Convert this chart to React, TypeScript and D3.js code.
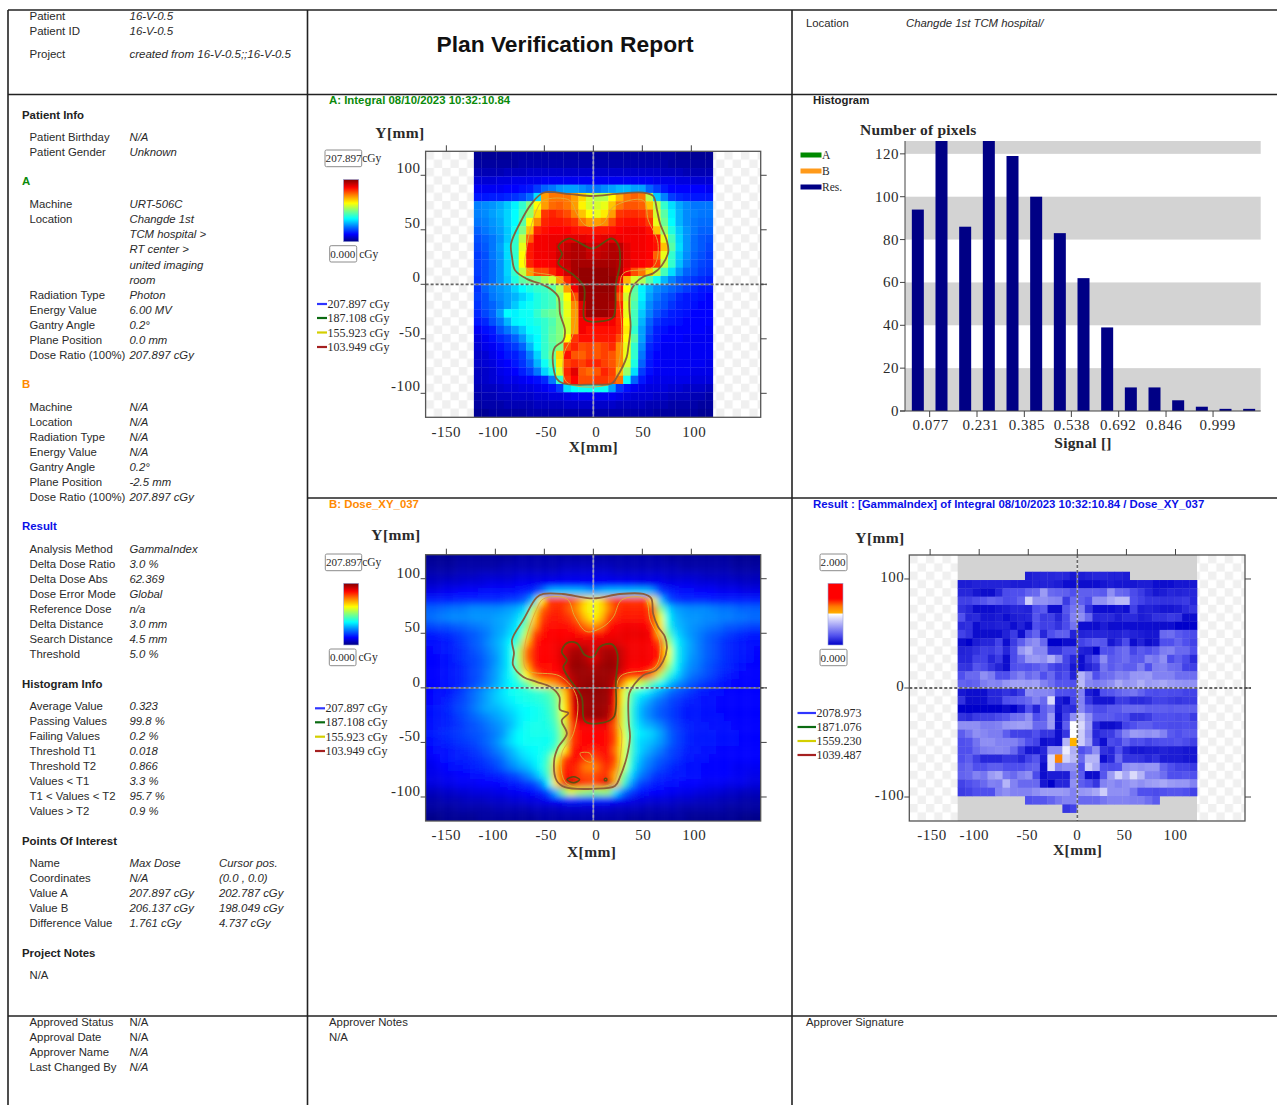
import React from "react";
import * as d3 from "d3";

// ---------- DATA ----------
const _ = null;
// Panel A: integral dose, percent of maximum, 32 x 32 pixels
const doseA: number[][] = [
[2,2,2,2,2,3,3,3,3,3,3,3,3,3,3,3,3,3,3,3,3,3,3,3,3,3,3,2,2,2,2,2],
[3,3,3,3,3,3,4,4,4,4,4,4,4,4,4,4,4,4,4,4,4,4,4,4,4,4,3,3,3,3,3,3],
[5,5,5,5,6,6,6,7,7,7,7,7,7,7,7,7,7,7,7,7,7,7,7,7,7,6,6,6,5,5,5,5],
[8,8,8,9,9,10,10,10,10,11,11,11,11,11,11,11,11,11,11,11,11,11,11,11,10,10,10,9,9,8,8,8],
[11,11,11,11,12,12,13,14,18,22,24,27,28,28,26,24,24,26,28,30,30,28,28,22,18,14,12,12,12,12,12,11],
[14,14,15,15,16,17,19,23,34,72,76,76,76,72,66,58,55,55,62,70,76,78,76,55,32,25,18,16,15,14,14,14],
[25,26,27,29,32,36,42,50,62,72,77,78,76,72,63,58,58,60,68,76,79,79,78,68,56,42,34,29,26,24,24,24],
[25,26,28,30,33,37,44,52,66,82,84,82,80,75,68,62,60,64,72,82,83,83,82,78,58,46,36,30,26,25,24,24],
[24,25,27,29,33,37,46,62,74,84,85,85,84,82,76,72,72,74,80,85,86,86,85,82,60,48,37,30,26,24,23,23],
[22,24,26,28,32,38,50,68,84,86,87,87,87,86,85,85,85,85,86,87,88,88,88,86,68,52,40,32,27,24,22,22],
[20,22,24,27,32,42,56,78,88,88,89,89,90,90,90,89,89,90,90,89,88,88,88,87,85,60,44,33,27,23,21,20],
[19,21,24,28,34,42,60,85,88,88,89,91,93,95,95,92,92,93,95,94,90,88,88,87,86,68,46,34,27,23,21,19],
[18,20,24,27,34,42,62,85,88,88,89,92,94,95,95,93,93,94,95,95,90,88,88,87,78,60,42,32,26,22,20,18],
[18,20,23,27,33,42,62,84,87,87,88,91,93,96,96,96,96,96,96,95,90,88,87,86,82,56,42,31,25,21,19,18],
[18,20,23,27,33,42,56,72,80,80,84,88,92,96,98,98,98,98,97,95,88,80,76,66,56,44,34,27,22,20,18,17],
[17,20,23,27,32,40,46,48,50,54,58,72,84,92,98,98,98,98,98,90,70,58,54,46,38,30,25,21,19,17,16,15],
[17,22,25,27,29,33,37,40,42,43,46,55,72,88,98,98,98,98,98,85,62,46,36,30,26,24,22,20,18,16,14,14],
[18,20,24,26,28,30,33,36,40,42,44,52,62,80,97,97,97,97,97,80,58,47,36,28,24,21,19,16,14,14,13,12],
[17,20,22,25,28,32,36,38,40,42,44,50,60,74,90,97,97,97,96,84,60,45,34,26,22,20,17,15,14,13,12,12],
[16,19,22,28,37,36,38,38,42,46,48,50,60,72,90,97,97,97,95,84,60,44,32,25,20,17,15,14,13,12,12,12],
[14,16,20,24,30,36,37,38,40,42,45,50,58,72,88,88,88,88,88,84,62,44,30,22,17,15,14,13,12,12,12,12],
[11,13,15,20,24,28,32,37,38,42,46,50,58,72,88,86,86,86,86,84,64,42,28,20,15,13,12,12,12,12,12,11],
[9,11,13,16,18,22,27,34,37,42,47,50,62,82,86,86,85,85,85,80,62,46,28,18,14,12,12,12,11,11,11,11],
[8,10,11,13,16,18,22,30,37,42,46,50,80,84,80,81,79,81,83,74,60,42,26,16,13,11,11,11,11,11,11,11],
[7,8,10,12,14,15,18,25,33,42,48,66,86,79,78,81,79,81,79,74,60,42,24,15,12,11,11,11,11,11,11,11],
[7,8,9,11,12,14,17,22,30,38,45,64,81,83,81,84,84,81,79,74,58,40,22,14,12,11,11,11,11,11,11,10],
[6,7,8,10,11,12,15,18,24,33,40,58,84,90,79,77,79,84,81,68,52,34,18,13,11,11,11,11,11,10,10,10],
[6,7,8,9,10,10,11,12,13,16,24,42,82,87,80,80,82,82,80,76,38,22,14,11,10,10,10,10,10,9,9,9],
[5,6,6,7,8,8,9,9,10,11,13,18,34,37,38,38,38,38,28,17,13,11,10,9,9,9,8,8,7,7,7,6],
[4,5,5,6,6,7,7,7,8,8,9,9,10,11,11,11,11,11,11,10,9,8,8,8,7,7,6,6,6,5,5,4],
[3,4,4,4,5,5,5,5,6,6,6,6,7,7,7,7,7,7,7,6,6,6,6,5,5,5,4,4,4,4,3,3],
[2,2,3,3,3,3,3,4,4,4,4,4,4,4,4,4,4,4,4,4,4,4,4,4,3,3,3,3,3,3,2,2],
];
// Panel B: planned dose, percent of maximum, 45 columns by 32 rows (displayed smoothed)
const doseB: number[][] = [
[2,2,2,2,3,3,3,3,3,3,3,3,4,4,4,4,4,4,4,4,4,4,4,4,4,4,4,4,4,4,4,4,3,3,3,3,3,3,3,3,3,2,2,2,2],
[3,3,3,3,4,4,4,4,4,4,5,5,5,5,5,5,5,5,6,6,6,6,6,6,6,5,5,5,5,5,5,5,5,5,4,4,4,4,4,4,4,3,3,3,3],
[5,5,5,5,6,6,6,7,7,7,7,7,8,8,8,8,8,8,9,9,9,9,9,9,9,8,8,8,8,8,8,8,7,7,7,7,7,6,6,6,6,5,5,5,5],
[7,7,8,8,8,9,9,9,10,10,10,10,11,11,11,11,12,12,12,12,12,12,12,12,12,12,12,12,11,11,11,11,10,10,10,10,9,9,9,8,8,8,7,7,7],
[10,10,11,11,12,12,12,13,13,13,13,13,14,15,17,22,30,32,32,32,32,30,28,30,32,32,32,32,32,32,28,18,16,14,13,13,12,12,12,11,11,11,10,10,10],
[15,15,15,15,16,16,16,16,16,16,17,18,19,22,32,62,82,82,82,80,74,66,62,66,76,82,82,82,82,82,64,32,21,17,16,16,16,16,15,15,15,15,15,15,15],
[22,22,23,24,24,25,26,26,26,26,27,28,30,34,56,76,82,84,82,78,72,64,60,65,74,82,84,84,84,84,78,50,34,28,27,26,26,26,25,24,24,23,22,22,22],
[23,24,25,26,26,26,27,27,27,28,29,30,34,42,66,80,85,85,84,82,76,68,62,68,80,84,85,85,85,85,80,60,38,30,28,27,27,26,26,25,25,24,24,23,23],
[19,20,20,21,22,23,24,25,26,28,29,32,36,50,70,83,86,86,86,85,82,76,72,76,85,87,88,88,88,87,84,64,40,31,29,27,26,25,24,23,21,21,20,19,19],
[15,15,16,17,18,20,21,23,25,28,30,34,40,56,80,85,87,87,87,87,86,85,85,86,88,88,89,89,89,89,86,68,46,34,30,27,25,23,21,20,18,17,16,15,15],
[13,13,14,15,17,19,21,23,26,29,32,37,46,68,84,87,87,88,88,89,90,90,90,90,90,90,89,88,88,88,87,80,54,38,32,28,25,22,20,18,16,15,14,13,13],
[12,13,14,15,16,18,20,22,25,28,32,38,54,76,85,87,87,88,91,95,96,95,90,95,96,95,91,88,88,88,87,84,62,40,32,28,25,22,20,18,16,15,14,13,12],
[12,12,13,14,16,18,19,21,24,27,32,38,54,76,85,87,87,88,91,96,97,95,90,95,97,96,91,88,88,88,87,84,60,40,32,27,25,22,20,18,16,15,14,13,12],
[12,12,13,14,15,17,19,21,24,28,32,38,52,70,84,86,86,87,90,97,98,97,95,97,98,97,91,87,87,87,86,74,52,38,30,26,24,21,19,17,16,14,13,12,12],
[12,12,13,14,15,17,19,21,25,28,33,38,46,62,76,84,85,86,89,95,97,97,97,97,97,95,88,84,84,83,72,54,42,34,28,24,22,20,18,16,14,13,12,12,12],
[12,12,13,14,15,17,19,22,25,29,33,37,40,46,56,66,70,74,82,92,97,98,98,98,97,92,74,62,58,52,44,38,32,27,24,21,19,17,16,14,13,12,12,12,12],
[12,13,13,15,17,20,23,26,29,32,35,38,39,40,41,42,45,50,66,88,97,98,98,98,97,88,60,46,40,36,32,28,24,21,19,17,15,14,13,13,12,12,12,12,12],
[12,13,14,16,18,20,23,26,29,32,34,36,38,39,40,41,43,48,64,88,97,97,98,98,97,86,60,44,34,30,26,23,20,18,16,15,14,13,13,12,12,12,12,12,12],
[13,14,15,17,19,21,24,27,29,30,32,34,36,37,38,39,42,47,62,86,95,97,97,97,96,84,58,42,32,27,24,21,19,17,15,14,14,13,13,12,12,12,12,12,12],
[13,14,15,16,18,20,22,24,26,28,30,32,35,37,38,39,41,46,60,84,93,97,98,98,95,82,58,42,32,27,24,21,19,17,15,14,14,13,13,13,12,12,12,12,12],
[13,14,15,16,17,19,20,22,24,26,28,31,35,38,39,39,40,44,56,80,88,88,88,89,88,78,58,42,34,30,28,25,21,18,16,15,14,14,13,13,13,12,12,12,12],
[14,15,16,17,18,19,20,21,23,25,28,33,37,38,39,39,39,42,54,80,86,87,87,87,86,80,60,44,36,34,32,28,23,19,17,15,14,14,14,13,13,13,12,12,12],
[13,14,15,16,17,18,19,21,23,26,30,34,37,38,38,38,38,42,54,80,86,87,87,87,86,80,62,44,34,32,30,27,23,19,17,15,14,14,14,13,13,13,12,12,12],
[12,13,13,14,15,16,17,19,21,24,27,30,34,36,37,38,40,46,62,84,87,86,84,86,87,76,60,44,34,30,27,24,20,18,16,14,14,13,13,12,12,12,12,12,12],
[11,12,13,14,15,15,16,17,19,21,24,28,31,34,36,38,44,60,80,86,86,82,80,84,86,80,60,42,32,27,24,21,19,17,15,14,13,13,12,12,12,12,12,12,12],
[10,11,12,13,13,14,15,16,17,19,22,25,28,30,34,38,46,68,84,85,82,75,74,80,84,76,58,40,30,25,22,19,17,15,14,13,13,12,12,12,12,11,11,11,11],
[10,10,11,11,12,12,13,13,14,15,16,18,20,24,28,34,44,70,85,86,82,80,80,82,82,70,50,34,26,22,18,16,15,14,14,13,13,12,12,12,12,11,11,10,10],
[9,9,10,10,11,11,11,12,12,12,13,14,15,17,19,24,36,64,88,94,86,82,80,86,92,70,44,28,20,17,15,14,13,13,12,12,12,11,11,11,10,10,10,9,9],
[6,6,7,7,8,8,9,9,9,10,10,11,11,12,13,15,20,30,50,60,54,52,50,52,52,34,24,18,15,13,12,12,11,11,10,10,9,9,8,8,7,7,6,6,6],
[4,4,5,5,5,6,6,6,7,7,7,8,8,9,9,10,11,12,14,15,15,14,14,14,14,12,11,10,9,9,8,8,8,7,7,7,6,6,6,5,5,5,4,4,4],
[3,3,3,3,4,4,4,4,4,5,5,5,5,5,6,6,6,6,7,7,7,7,7,7,7,6,6,6,6,5,5,5,5,5,4,4,4,4,4,4,3,3,3,3,3],
[1,1,2,2,2,2,2,3,3,3,3,3,3,3,3,4,4,4,4,4,4,4,4,4,4,4,4,3,3,3,3,3,3,3,3,2,2,2,2,2,2,2,1,1,1],
];
// Result panel: gamma index x 100, 32 x 32 pixels (null = not evaluated)
const gamma: (number | null)[][] = [
[_,_,_,_,_,_,_,_,_,_,_,_,_,_,_,_,_,_,_,_,_,_,_,_,_,_,_,_,_,_,_,_],
[_,_,_,_,_,_,_,_,_,_,_,_,_,_,_,_,_,_,_,_,_,_,_,_,_,_,_,_,_,_,_,_],
[_,_,_,_,_,_,_,_,_,10,12,14,14,16,14,8,10,12,14,14,12,12,10,_,_,_,_,_,_,_,_,_],
[10,10,12,12,12,12,12,10,10,10,12,12,12,10,6,4,4,4,6,8,10,8,8,8,10,10,6,4,6,8,8,8],
[14,14,8,3,3,14,28,30,30,38,40,60,40,38,36,30,36,36,36,34,55,40,38,28,22,14,8,10,14,12,14,14],
[24,24,28,32,38,34,28,30,38,80,56,56,52,50,22,40,36,30,56,56,65,72,72,30,25,20,20,18,18,20,22,15],
[18,14,4,5,5,8,10,14,14,12,30,34,4,4,32,45,48,18,6,6,6,8,6,24,10,12,10,8,8,10,16,20],
[30,14,16,8,8,10,6,10,12,14,32,22,24,14,28,50,55,40,15,16,16,10,16,16,10,12,18,18,22,20,5,5],
[16,18,6,10,10,12,12,6,12,5,30,24,25,18,28,44,6,6,4,10,5,6,6,6,6,6,4,4,6,2,2,2],
[25,18,5,3,3,5,12,22,5,28,38,14,30,36,36,12,12,14,14,14,12,12,16,12,10,8,8,40,42,34,30,28],
[5,2,10,14,14,25,6,22,35,50,55,40,2,2,4,6,25,30,34,32,8,16,28,5,12,3,8,30,30,38,30,25],
[12,14,18,24,22,28,15,28,58,68,52,52,20,20,30,30,12,10,2,30,30,38,42,26,34,30,35,48,50,40,40,30],
[15,15,25,25,15,22,5,28,40,58,60,55,68,52,26,14,5,20,30,54,34,38,42,34,34,50,45,55,28,36,28,16],
[20,18,32,28,20,12,5,30,32,30,34,40,28,22,25,8,6,12,18,44,34,40,35,35,48,30,48,50,42,40,25,24],
[30,40,40,55,48,30,30,42,50,40,45,30,40,25,30,12,70,55,30,40,42,50,48,58,58,60,50,50,50,42,42,42],
[38,35,38,48,52,50,58,62,62,60,62,50,42,32,32,30,72,52,48,50,55,66,58,60,68,60,62,65,60,58,56,56],
[8,5,5,5,15,15,18,15,22,55,52,52,50,30,30,28,50,10,5,30,32,38,42,45,38,30,28,30,28,28,25,25],
[18,4,5,6,15,15,30,32,35,40,50,40,85,10,3,25,50,20,8,8,8,22,22,16,16,18,25,25,22,20,22,22],
[2,2,2,2,2,2,3,2,10,30,12,35,45,8,18,16,52,35,28,28,34,34,40,40,40,36,36,36,34,36,36,36],
[18,16,22,24,24,28,32,42,44,55,30,35,60,5,25,55,75,55,34,34,34,30,30,18,18,22,30,30,30,28,30,22],
[55,55,55,48,48,50,58,60,62,60,40,40,60,3,35,100,85,60,15,3,3,8,25,30,35,35,30,30,28,28,30,28],
[35,45,55,52,48,48,35,25,25,24,30,20,20,5,20,100,80,55,15,20,22,35,50,60,58,55,58,50,34,30,34,34],
[30,32,44,55,55,50,50,50,42,30,25,5,8,4,70,102,80,60,18,6,28,25,38,28,30,25,28,30,30,32,28,24],
[30,30,40,48,50,52,50,40,22,8,8,15,55,55,92,68,30,38,55,18,15,30,15,8,8,10,10,12,10,10,8,8],
[30,35,24,14,15,14,20,20,14,25,32,10,85,120,82,72,40,70,70,6,15,40,20,20,18,14,18,10,10,10,8,8],
[35,40,30,30,35,35,30,30,30,35,38,4,85,50,55,55,30,80,65,30,28,30,55,58,55,58,58,38,30,25,25,22],
[38,40,50,45,60,65,45,40,50,55,28,5,10,10,10,48,34,4,4,32,60,82,65,85,70,50,50,42,30,30,32,30],
[25,30,34,40,50,48,70,50,40,40,40,8,2,15,15,55,35,30,20,50,55,50,55,60,55,60,62,65,60,58,58,50],
[22,25,30,30,30,50,55,50,50,50,55,60,60,60,58,50,58,60,65,80,55,55,55,45,30,30,28,30,32,32,30,25],
[_,_,_,_,_,_,_,_,_,30,32,32,38,45,50,50,40,40,40,45,50,50,50,48,48,42,34,_,_,_,_,_],
[_,_,_,_,_,_,_,_,_,_,_,_,_,_,20,25,_,_,_,_,_,_,_,_,_,_,_,_,_,_,_,_],
[_,_,_,_,_,_,_,_,_,_,_,_,_,_,_,_,_,_,_,_,_,_,_,_,_,_,_,_,_,_,_,_],
];

// Isodose contours, [x mm, y mm]
const aOuter = [[-51,84],[-24,82.7],[0,81],[24,83],[51,84],[61,81],[65,68],[68,56],[75,40],[76.5,30],[70,17.5],[61,10],[51,7],[42.5,0.6],[37.4,-8.6],[36.7,-21],[38,-39],[35.7,-57.6],[34,-66.8],[24,-85],[18.7,-91],[0,-92],[-30.6,-91],[-37.4,-86.7],[-41.5,-66.8],[-39,-57.6],[-30.6,-51.5],[-29,-42],[-34,-27],[-35.7,-11.6],[-44,-4],[-54.4,0.6],[-68,5],[-80,13],[-83,25],[-84,37],[-75,56],[-63,74]];
const aInner = [[-25.5,42],[-17,39.5],[-0.7,32.8],[18.7,42],[25.5,36],[27,17.5],[23,0.6],[20.4,-30],[10,-33.7],[-8.5,-32.5],[-9.5,-2.5],[-20,8.3],[-35.7,19],[-32,28],[-35.7,35]];
const aMid = [[-51,77],[-24,77],[-17,65],[-7,53.6],[10,56],[20.4,71],[51,77],[56,59],[66,37.3],[61,16],[30.6,10],[27,-8.6],[29,-45],[24,-82],[18.7,-91],[-27,-90],[-30,-64],[-20.4,-45],[-20.4,-8.6],[-37.4,6.7],[-68,14],[-68,34],[-58,68]];
const bOuter = [[-51,86],[-31,86],[0,82],[27,86],[51,86],[59,82],[61,68],[66,56],[73,47],[75,36],[71,24],[64,16],[51,11.6],[42.5,4],[36.7,-5],[36,-30],[37.4,-45],[34,-63.7],[27,-82],[22,-90],[0,-92.5],[-29,-91],[-37.4,-85],[-40,-66.8],[-36,-54.5],[-27,-42],[-32.3,-30],[-25.5,-23],[-34,-20],[-34.7,-8],[-44,1],[-58,5.5],[-71.4,10],[-82,21],[-81,32],[-83,44],[-71.4,62.4],[-58,82.7]];
const bInner = [[-27,41],[-17,41],[-8.5,30],[0,28.5],[6.8,37.7],[18.7,40],[24.5,31.5],[23,7],[21,-26.6],[10,-31.9],[-8.5,-30.6],[-12,-8.3],[-27,11.6],[-30.6,19.3],[-27,25.3],[-32.3,33]];
const bHot1 = [[-27,-84],[-20,-81.5],[-14,-84],[-20,-87]];
const bHot2 = [[11.5,-83],[13.5,-83],[13.5,-85],[11.5,-85]];
const bMid = [[-51,81.5],[-27,81.5],[-18.7,65],[-6.8,51.5],[10,56],[20.4,65],[29,80.6],[52.7,81.5],[58,62],[68,41],[63,19],[27,10],[25.5,-30],[29,-42],[24,-79],[18.7,-88],[-27,-88],[-32.3,-60.6],[-20.4,-42],[-17,-8],[-34,10.7],[-68,16.5],[-70,38],[-58,71.8]];
const bMidLoop = [[-13.6,-60],[-3.4,-60],[-1.7,-68],[-8.5,-66.5]];

const xTicks = [-150, -100, -50, 0, 50, 100];
const yTicks = [100, 50, 0, -50, -100];
const gammaYTicks = [100, 0, -100];
const doseLegend = ["207.897 cGy", "187.108 cGy", "155.923 cGy", "103.949 cGy"];
const gammaLegend = ["2078.973", "1871.076", "1559.230", "1039.487"];

const histCenters = [0.0385,0.1155,0.1925,0.2695,0.3465,0.4235,0.5005,0.5775,0.6545,0.7315,0.8085,0.8855,0.9625,1.0395,1.1165];
const histCounts = [94,126,86,126,119,100,83,62,39,11,11,5,2,1,1];
const histYTicks = [0,20,40,60,80,100,120];
const histBands = [[0,20],[40,60],[80,100],[120,126]];
const histXTicks = [0.077,0.231,0.385,0.538,0.692,0.846,0.999];
const histXLabels = ["0.077","0.231","0.385","0.538","0.692","0.846","0.999"];
const histLegend = ["A","B","Res."];

const headerRows = [["Patient","16-V-0.5"],["Patient ID","16-V-0.5"],["Project","created from 16-V-0.5;;16-V-0.5"]];
const patientRows = [["Patient Birthday","N/A"],["Patient Gender","Unknown"]];
const aRows = [["Machine","URT-506C"],["Location","Changde 1st"],["","TCM hospital >"],["","RT center >"],["","united imaging"],["","room"],["Radiation Type","Photon"],["Energy Value","6.00 MV"],["Gantry Angle","0.2°"],["Plane Position","0.0 mm"],["Dose Ratio (100%)","207.897 cGy"]];
const bRows = [["Machine","N/A"],["Location","N/A"],["Radiation Type","N/A"],["Energy Value","N/A"],["Gantry Angle","0.2°"],["Plane Position","-2.5 mm"],["Dose Ratio (100%)","207.897 cGy"]];
const resultRows = [["Analysis Method","GammaIndex"],["Delta Dose Ratio","3.0 %"],["Delta Dose Abs","62.369"],["Dose Error Mode","Global"],["Reference Dose","n/a"],["Delta Distance","3.0 mm"],["Search Distance","4.5 mm"],["Threshold","5.0 %"]];
const histInfoRows = [["Average Value","0.323"],["Passing Values","99.8 %"],["Failing Values","0.2 %"],["Threshold T1","0.018"],["Threshold T2","0.866"],["Values < T1","3.3 %"],["T1 < Values < T2","95.7 %"],["Values > T2","0.9 %"]];
const poiRows = [["Name","Max Dose","Cursor pos."],["Coordinates","N/A","(0.0 , 0.0)"],["Value A","207.897 cGy","202.787 cGy"],["Value B","206.137 cGy","198.049 cGy"],["Difference Value","1.761 cGy","4.737 cGy"]];
const approvalRows = [["Approved Status","N/A"],["Approval Date","N/A"]];
const approverRows = [["Approver Name","N/A"],["Last Changed By","N/A"]];

// ---------- STYLE / LAYOUT ----------
const SANS = "'Liberation Sans', Arial, sans-serif";
const SERIF = "'Liberation Serif', 'Times New Roman', serif";
const TXT = "#2a2a2a";
const BODY = 11.35;

const jet = d3.scaleLinear<string>()
  .domain([0, 12, 25, 37, 50, 62, 75, 87, 100])
  .range(["#000080", "#0000ff", "#0080ff", "#00ffff", "#80ff80", "#ffff00", "#ff8000", "#ff0000", "#800000"])
  .clamp(true);
const gammaColor = d3.scaleLinear<string>()
  .domain([0, 30, 100, 101, 125, 150, 200])
  .range(["#0000c8", "#5050ee", "#ffffff", "#ffb400", "#ff7a00", "#ff0000", "#ff0000"])
  .clamp(true);

const CELL = 7.62;
const IMG_HALF = 121.9;
const curve = d3.line<number[]>().curve(d3.curveCatmullRomClosed.alpha(0.5));

type Contour = { pts: number[][]; color: string; w: number };

function Colorbar({ id, color, max, x0, x1, y0, y1 }: any) {
  const stops = d3.range(0, 1.0001, 0.02);
  return (
    <g>
      <defs>
        <linearGradient id={id} x1="0" y1="0" x2="0" y2="1">
          {stops.map((t) => <stop key={t} offset={t} stopColor={color(max * (1 - t))} />)}
        </linearGradient>
      </defs>
      <rect x={x0} y={y0} width={x1 - x0} height={y1 - y0} fill={`url(#${id})`} stroke="#9aa6d8" strokeWidth={0.6} />
    </g>
  );
}

function ValueBox({ x0, x1, y0, y1, text, suffix, suffixDx = 0 }: any) {
  return (
    <g>
      <rect x={x0} y={y0} width={x1 - x0} height={y1 - y0} rx={1.5} fill="#fff" stroke="#8c8c8c" strokeWidth={1} />
      <text x={x0 + 0.6} y={(y0 + y1) / 2 + 4} fontFamily={SERIF} fontSize={11.1} fill={TXT}>{text}</text>
      {suffix && <text x={x1 + suffixDx} y={(y0 + y1) / 2 + 4} fontFamily={SERIF} fontSize={11.5} fill={TXT}>{suffix}</text>}
    </g>
  );
}

const legendColors = ["#2f35ff", "#0b6b12", "#d4cf00", "#a52020"];

function Panel(p: any) {
  const x = d3.scaleLinear().domain([-171.2, 170.8]).range([p.left, p.right]);
  const y = d3.scaleLinear().domain([122, -122]).range([p.top, p.bottom]);
  const line = (pts: number[][]) => curve(pts.map((q) => [x(q[0]), y(q[1])]) as any) || "";
  const nCols = p.grid[0].length;
  const gridStart = -CELL * nCols / 2;
  const rowTop = (r: number) => IMG_HALF - CELL * r;
  const cx = (c: number) => x(gridStart + CELL * c);
  const clipId = `clip-${p.id}`;
  const imgX0 = p.full ? p.left : x(-IMG_HALF);
  const imgX1 = p.full ? p.right : x(IMG_HALF);
  return (
    <g>
      <defs>
        <clipPath id={clipId}><rect x={p.left} y={p.top} width={p.right - p.left} height={p.bottom - p.top} /></clipPath>
        <pattern id={`check-${p.id}`} x={p.left} y={p.top} width={16.6} height={16.6} patternUnits="userSpaceOnUse">
          <rect width={16.6} height={16.6} fill="#ffffff" />
          <rect width={8.3} height={8.3} fill="#f0f0f0" />
          <rect x={8.3} y={8.3} width={8.3} height={8.3} fill="#f0f0f0" />
        </pattern>
      </defs>
      <rect x={p.left} y={p.top} width={p.right - p.left} height={p.bottom - p.top} fill={`url(#check-${p.id})`} />
      <g clipPath={`url(#${clipId})`}>
        {p.gray && <rect x={imgX0} y={p.top} width={imgX1 - imgX0} height={p.bottom - p.top} fill="#d3d3d3" />}
        <g filter={`url(#${p.full ? "blurBig" : "blurSmall"})`}>
          {p.grid.map((row: (number | null)[], r: number) =>
            row.map((v, c) => {
              if (v === null) return null;
              const ext = p.full ? 14 : 0;
              const xa = cx(c) - (p.full && c === 0 ? ext : 0);
              const xb = cx(c + 1) + (p.full && c === nCols - 1 ? ext : 0);
              const ya = y(rowTop(r)) - (p.full && r === 0 ? ext : 0);
              const yb = y(rowTop(r + 1)) + (p.full && r === 31 ? ext : 0);
              return <rect key={`${r}-${c}`} x={xa} y={ya} width={xb - xa + 0.3} height={yb - ya + 0.3} fill={p.color(v)} />;
            })
          )}
        </g>
        {(p.contours || []).map((k: Contour, i: number) => (
          <path key={i} d={line(k.pts)} fill="none" stroke={k.color} strokeWidth={k.w} strokeOpacity={0.95} />
        ))}
      </g>
      <line x1={p.left} x2={p.right + 6} y1={y(0)} y2={y(0)} stroke="#ffffff" strokeWidth={1.8} strokeOpacity={0.45} />
      <line x1={p.left} x2={p.right + 6} y1={y(0)} y2={y(0)} stroke="#666" strokeWidth={1.8} strokeDasharray="3 2" />
      <line y1={p.top} y2={p.bottom} x1={x(0)} x2={x(0)} stroke="#ffffff" strokeWidth={1.6} strokeOpacity={0.45} />
      <line y1={p.top} y2={p.bottom} x1={x(0)} x2={x(0)} stroke={p.gray ? "#666" : "#a0a0b0"} strokeWidth={1.6} strokeDasharray="3 2" />
      <rect x={p.left} y={p.top} width={p.right - p.left} height={p.bottom - p.top} fill="none" stroke="#555" strokeWidth={1.3} />
      {xTicks.map((t, i) => (
        <g key={t}>
          <line x1={x(t)} x2={x(t)} y1={p.top - 6} y2={p.top} stroke="#444" strokeWidth={1} />
          <text x={x(t) + p.xLabelDx[i]} y={p.xLabelY + 5} textAnchor="middle" fontFamily={SERIF} fontSize={15} letterSpacing={0.5} fill={TXT}>{t}</text>
        </g>
      ))}
      {p.yTicks.map((t: number) => (
        <g key={t}>
          <line x1={p.left - 5} x2={p.left} y1={y(t)} y2={y(t)} stroke="#444" strokeWidth={1} />
          <line x1={p.right} x2={p.right + 6} y1={y(t)} y2={y(t)} stroke="#444" strokeWidth={1} />
          <text x={p.left - 5} y={y(t) + p.yLabelDy + 5} textAnchor="end" fontFamily={SERIF} fontSize={15} letterSpacing={0.5} fill={TXT}>{t}</text>
        </g>
      ))}
      <text x={p.xLabelX} y={p.xTitleY + 5} textAnchor="middle" fontFamily={SERIF} fontWeight="bold" fontSize={15.5} letterSpacing={0.4} fill={TXT}>X[mm]</text>
      <text x={p.yLabelX} y={p.yTitleY + 5} textAnchor="middle" fontFamily={SERIF} fontWeight="bold" fontSize={15.5} letterSpacing={0.4} fill={TXT}>Y[mm]</text>
      <ValueBox {...p.maxBox} />
      <Colorbar id={`bar-${p.id}`} color={p.color} max={p.barMax} {...p.bar} />
      <ValueBox {...p.minBox} />
      {p.legend.map((t: string, i: number) => (
        <g key={t}>
          <line x1={p.legendX0} x2={p.legendX1} y1={p.legendY[i]} y2={p.legendY[i]} stroke={legendColors[i]} strokeWidth={2.2} />
          <text x={p.legendX1 + 0.5} y={p.legendY[i] + 4} fontFamily={SERIF} fontSize={12} fill={TXT}>{t}</text>
        </g>
      ))}
    </g>
  );
}

function Histogram() {
  const left = 905, right = 1260.7, base = 411, top = 141;
  const x = d3.scaleLinear().domain([0, 1.154]).range([906, right]);
  const y = d3.scaleLinear().domain([0, 126]).range([base, top]);
  const barW = 12;
  const labelDx = [1, 3.5, 2.5, 0.5, -0.5, -2, 4.5];
  return (
    <g>
      {histBands.map((b, i) => (
        <rect key={i} x={left} width={right - left} y={y(b[1])} height={y(b[0]) - y(b[1])} fill="#d3d3d3" />
      ))}
      {histCounts.map((c, i) => (
        <rect key={i} x={x(histCenters[i]) - barW / 2} width={barW} y={y(c)} height={y(0) - y(c)} fill="#000085" />
      ))}
      <line x1={left} x2={left} y1={top} y2={base} stroke="#444" strokeWidth={1} />
      <line x1={left - 5} x2={right} y1={base} y2={base} stroke="#444" strokeWidth={1} />
      {histYTicks.map((t) => (
        <g key={t}>
          <line x1={left - 5} x2={left} y1={y(t)} y2={y(t)} stroke="#444" strokeWidth={1} />
          <text x={899} y={y(t) + 5} textAnchor="end" fontFamily={SERIF} fontSize={15} letterSpacing={0.5} fill={TXT}>{t}</text>
        </g>
      ))}
      {histXTicks.map((t, i) => (
        <g key={t}>
          <line x1={x(t)} x2={x(t)} y1={base} y2={base + 6} stroke="#444" strokeWidth={1} />
          <text x={x(t) + labelDx[i]} y={430} textAnchor="middle" fontFamily={SERIF} fontSize={15} letterSpacing={0.5} fill={TXT}>{histXLabels[i]}</text>
        </g>
      ))}
      <text x={860} y={135} fontFamily={SERIF} fontWeight="bold" fontSize={15.5} letterSpacing={0.2} fill={TXT}>Number of pixels</text>
      <text x={1083} y={448} textAnchor="middle" fontFamily={SERIF} fontWeight="bold" fontSize={15.5} letterSpacing={0.2} fill={TXT}>Signal []</text>
      {histLegend.map((t, i) => (
        <g key={t}>
          <rect x={800.5} width={21} y={[152.5, 168.5, 184.5][i]} height={5} fill={["#008a00", "#ff9a1a", "#000085"][i]} />
          <text x={822} y={[159, 175, 191][i]} fontFamily={SERIF} fontSize={11.5} fill={TXT}>{t}</text>
        </g>
      ))}
    </g>
  );
}

function Rows({ rows, ys, cols = [29.5, 129.5, 219], size = BODY, upright = false }: { rows: string[][]; ys: number[]; cols?: number[]; size?: number; upright?: boolean }) {
  return (
    <>
      {rows.map((r, i) =>
        r.map((t, j) => t && (
          <text key={`${i}-${j}`} x={cols[j]} y={ys[i]} fontFamily={SANS} fontSize={size} fontStyle={j > 0 && !upright ? "italic" : "normal"} fill={TXT}>{t}</text>
        ))
      )}
    </>
  );
}

function Head({ x, y, color = "#222", size = 11.4, children }: any) {
  return <text x={x} y={y} fontFamily={SANS} fontSize={size} fontWeight="bold" fill={color}>{children}</text>;
}

export default function App() {
  const xDx = [0, -2, 2, 3, 1, 3];
  return (
    <svg width={1277} height={1105} style={{ position: "absolute", left: 0, top: 0, display: "block", background: "#fff" }}>
      <defs>
        <filter id="blurSmall" x="-5%" y="-5%" width="110%" height="110%"><feGaussianBlur stdDeviation="0.5" /></filter>
        <filter id="blurBig" x="-10%" y="-10%" width="120%" height="120%"><feGaussianBlur stdDeviation="3" /></filter>
      </defs>

      {/* report frame */}
      <g stroke="#222" strokeWidth={1.6}>
        <line x1={8} x2={1277} y1={10} y2={10} />
        <line x1={8} x2={1277} y1={94.5} y2={94.5} />
        <line x1={307.5} x2={1277} y1={498} y2={498} />
        <line x1={8} x2={1277} y1={1016} y2={1016} />
        <line x1={8} x2={8} y1={10} y2={1105} />
        <line x1={307.5} x2={307.5} y1={10} y2={1105} />
        <line x1={792} x2={792} y1={10} y2={1105} />
      </g>

      {/* left column */}
      <Rows rows={headerRows} ys={[20, 35, 58]} size={11.5} />
      <Head x={22} y={119}>Patient Info</Head>
      <Rows rows={patientRows} ys={[141, 156]} />
      <Head x={22} y={185} color="#0a8a0a">A</Head>
      <Rows rows={aRows} ys={[208, 223, 238, 253, 269, 284, 299, 314, 329, 344, 359]} />
      <Head x={22} y={388} color="#ff8a00">B</Head>
      <Rows rows={bRows} ys={[411, 426, 441, 456, 471, 486, 501]} />
      <Head x={22} y={530} color="#0a10e8">Result</Head>
      <Rows rows={resultRows} ys={[553, 568, 583, 598, 613, 628, 643, 658]} />
      <Head x={22} y={688}>Histogram Info</Head>
      <Rows rows={histInfoRows} ys={[710, 725, 740, 755, 770, 785, 800, 815]} />
      <Head x={22} y={845}>Points Of Interest</Head>
      <Rows rows={poiRows} ys={[867, 882, 897, 912, 927]} />
      <Head x={22} y={957}>Project Notes</Head>
      <text x={29.5} y={979} fontFamily={SANS} fontSize={BODY} fill={TXT}>N/A</text>
      <Rows rows={approvalRows} ys={[1026, 1041]} upright />
      <Rows rows={approverRows} ys={[1056, 1071]} />

      {/* header */}
      <text x={565} y={52} textAnchor="middle" fontFamily={SANS} fontWeight="bold" fontSize={22.8} fill="#111">Plan Verification Report</text>
      <text x={806} y={27} fontFamily={SANS} fontSize={BODY} fill={TXT}>Location</text>
      <text x={906} y={27} fontFamily={SANS} fontSize={BODY} fontStyle="italic" fill={TXT}>Changde 1st TCM hospital/</text>

      {/* panel titles */}
      <Head x={329} y={104} color="#0a8a0a">A: Integral 08/10/2023 10:32:10.84</Head>
      <Head x={813} y={104}>Histogram</Head>
      <Head x={329} y={508} color="#ff8a00">B: Dose_XY_037</Head>
      <Head x={813} y={508} color="#0a10e8">Result : [GammaIndex] of Integral 08/10/2023 10:32:10.84 / Dose_XY_037</Head>

      <Panel id="a" grid={doseA} color={jet} barMax={100} yTicks={yTicks}
        left={425.6} right={760.7} top={151.3} bottom={417.3}
        xLabelDx={xDx} xLabelY={432} yLabelDy={-7}
        xLabelX={593.5} xTitleY={446.5} yLabelX={400} yTitleY={133}
        contours={[{ pts: aMid, color: "#e0ac38", w: 1 }, { pts: aOuter, color: "#8a5a36", w: 1.8 }, { pts: aInner, color: "#55500f", w: 1.8 }]}
        maxBox={{ x0: 325, x1: 361.7, y0: 150, y1: 166.7, text: "207.897", suffix: "cGy", suffixDx: 0.5 }}
        minBox={{ x0: 329.7, x1: 356.7, y0: 245.7, y1: 262, text: "0.000", suffix: "cGy", suffixDx: 2.5 }}
        bar={{ x0: 343.5, x1: 358.7, y0: 179.5, y1: 241.7 }}
        legend={doseLegend} legendX0={317} legendX1={327} legendY={[304, 318, 332.5, 347]}
      />
      <Panel id="b" grid={doseB} full color={jet} barMax={100} yTicks={yTicks}
        left={425.6} right={760.7} top={554.7} bottom={821}
        xLabelDx={xDx} xLabelY={835} yLabelDy={-6}
        xLabelX={591.7} xTitleY={851.5} yLabelX={396} yTitleY={535}
        contours={[{ pts: bMid, color: "#e0ac38", w: 1 }, { pts: bMidLoop, color: "#e0ac38", w: 1 }, { pts: bOuter, color: "#8a5a36", w: 1.8 }, { pts: bInner, color: "#55500f", w: 1.8 }, { pts: bHot1, color: "#55500f", w: 1.5 }, { pts: bHot2, color: "#55500f", w: 1.5 }]}
        maxBox={{ x0: 325.3, x1: 361.7, y0: 554, y1: 570.7, text: "207.897", suffix: "cGy", suffixDx: 0.5 }}
        minBox={{ x0: 329.3, x1: 356, y0: 649, y1: 665.7, text: "0.000", suffix: "cGy", suffixDx: 2.5 }}
        bar={{ x0: 343.7, x1: 358.7, y0: 583.3, y1: 645 }}
        legend={doseLegend} legendX0={315} legendX1={325} legendY={[708.3, 722.3, 736.7, 751]}
      />
      <Panel id="g" grid={gamma} gray color={gammaColor} barMax={200} yTicks={gammaYTicks}
        left={909.3} right={1245} top={555} bottom={821}
        xLabelDx={[2, -5, -1, 0, -2, 0]} xLabelY={835} yLabelDy={-2}
        xLabelX={1077.7} xTitleY={850} yLabelX={880} yTitleY={538}
        maxBox={{ x0: 820, x1: 847, y0: 554, y1: 570.7, text: "2.000" }}
        minBox={{ x0: 820, x1: 847, y0: 649.3, y1: 665.7, text: "0.000" }}
        bar={{ x0: 828, x1: 843, y0: 583.3, y1: 645 }}
        legend={gammaLegend} legendX0={797.5} legendX1={816} legendY={[713, 727, 741, 755]}
      />

      <Histogram />

      {/* footer */}
      <text x={329} y={1026} fontFamily={SANS} fontSize={BODY} fill={TXT}>Approver Notes</text>
      <text x={329} y={1041} fontFamily={SANS} fontSize={BODY} fill={TXT}>N/A</text>
      <text x={806} y={1026} fontFamily={SANS} fontSize={BODY} fill={TXT}>Approver Signature</text>
    </svg>
  );
}
